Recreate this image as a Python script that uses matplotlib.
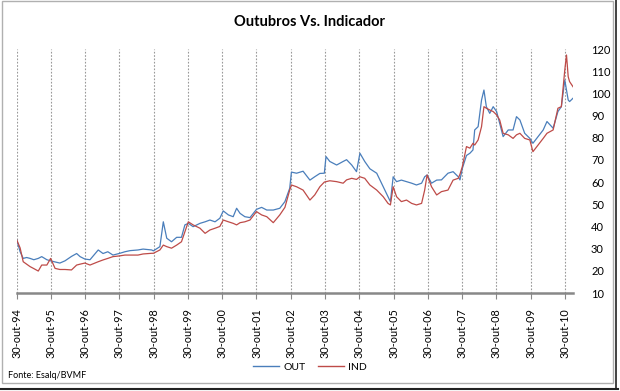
import matplotlib
matplotlib.use("Agg")
import matplotlib.pyplot as plt
from matplotlib.lines import Line2D
from matplotlib.patches import Rectangle

# decimal years (30-out-94 = 1994.83)
years = [1994.83, 1994.93, 1995.02, 1995.12, 1995.22, 1995.33, 1995.46, 1995.56, 1995.71, 1995.82,
         1995.95, 1996.09, 1996.24, 1996.43, 1996.58, 1996.68, 1996.82, 1996.97, 1997.21, 1997.35,
         1997.49, 1997.64, 1997.82, 1997.99, 1998.14, 1998.37, 1998.52, 1998.77, 1998.82, 1999.01,
         1999.11, 1999.21, 1999.35, 1999.50, 1999.64, 1999.74, 1999.84, 1999.98, 2000.18, 2000.33,
         2000.47, 2000.62, 2000.76, 2000.86, 2001.01, 2001.15, 2001.25, 2001.35, 2001.49, 2001.64,
         2001.83, 2001.98, 2002.13, 2002.32, 2002.51, 2002.66, 2002.80, 2002.85, 2003.00, 2003.19,
         2003.39, 2003.53, 2003.68, 2003.81, 2003.86, 2003.97, 2004.17, 2004.36, 2004.46, 2004.61,
         2004.75, 2004.85, 2004.99, 2005.14, 2005.34, 2005.53, 2005.67, 2005.74, 2005.82, 2005.92,
         2006.06, 2006.21, 2006.36, 2006.50, 2006.65, 2006.74, 2006.81, 2006.94, 2007.09, 2007.23,
         2007.42, 2007.57, 2007.72, 2007.77, 2007.84, 2007.96, 2008.06, 2008.15, 2008.20, 2008.30,
         2008.40, 2008.47, 2008.54, 2008.64, 2008.74, 2008.84, 2008.93, 2009.03, 2009.18, 2009.32,
         2009.42, 2009.52, 2009.66, 2009.81, 2009.90, 2010.05, 2010.20, 2010.31, 2010.49, 2010.63,
         2010.73, 2010.83, 2010.88, 2010.93, 2010.97, 2011.07]

out_vals = [34.0, 28.6, 25.6, 26.0, 25.6, 25.0, 25.6, 26.4, 25.0, 24.5,
            24.0, 23.5, 24.5, 26.5, 27.8, 26.4, 25.3, 25.0, 29.4, 27.8,
            28.6, 27.1, 27.8, 28.6, 29.1, 29.4, 29.8, 29.4, 29.0, 30.9,
            42.1, 34.7, 33.1, 35.1, 35.1, 40.7, 41.4, 39.9, 41.4, 42.1,
            42.9, 42.1, 43.7, 47.0, 45.2, 44.4, 48.2, 45.9, 44.4, 44.0,
            47.7, 48.6, 47.4, 47.4, 48.2, 51.2, 57.2, 64.5, 64.0, 64.9,
            60.9, 62.4, 63.9, 64.0, 71.5, 69.3, 67.7, 69.3, 70.1, 67.7,
            64.7, 73.0, 69.3, 66.0, 64.0, 57.9, 53.4, 51.2, 62.4, 60.2,
            60.9, 60.2, 59.5, 58.7, 59.5, 62.4, 63.2, 59.5, 60.9, 61.0,
            64.0, 64.7, 62.4, 61.0, 66.2, 72.0, 73.0, 74.5, 83.5, 85.0,
            97.0, 101.5, 94.0, 91.0, 94.0, 91.8, 86.5, 80.5, 83.5, 83.5,
            89.5, 88.0, 82.0, 79.7, 77.5, 80.5, 83.5, 87.3, 84.3, 91.8,
            94.0, 106.0, 101.5, 97.0, 96.3, 97.8]

ind_vals = [34.0, 30.3, 24.1, 23.0, 21.9, 21.0, 19.9, 22.6, 22.6, 25.6,
            21.1, 20.6, 20.6, 20.4, 22.6, 23.0, 23.5, 22.6, 24.1, 24.9,
            25.6, 26.4, 26.7, 27.1, 27.1, 27.1, 27.6, 27.9, 27.9, 29.4,
            31.6, 30.9, 30.2, 31.6, 33.1, 37.6, 42.1, 40.7, 39.2, 36.9,
            38.4, 39.2, 40.0, 42.9, 42.1, 41.4, 40.7, 41.7, 42.1, 42.9,
            46.7, 45.2, 44.4, 41.7, 45.2, 48.6, 56.4, 58.7, 57.9, 56.4,
            51.9, 54.2, 57.9, 60.0, 60.2, 60.6, 60.2, 59.5, 61.0, 61.7,
            61.2, 62.4, 61.7, 58.7, 56.4, 53.4, 50.4, 49.7, 57.9, 53.4,
            51.2, 51.9, 50.4, 49.7, 50.4, 56.4, 63.2, 57.9, 54.2, 55.7,
            56.4, 60.9, 61.7, 63.5, 67.0, 76.0, 75.3, 77.5, 76.7, 79.0,
            85.0, 94.0, 93.3, 92.5, 91.8, 90.3, 88.0, 82.0, 81.3, 79.7,
            81.3, 82.0, 79.7, 79.0, 73.7, 76.7, 79.7, 82.0, 83.5, 93.3,
            94.0, 110.5, 117.3, 107.5, 105.3, 103.0]

tick_years = [1994.83 + k for k in range(17)]
tick_labels = ["30-out-%02d" % ((94 + k) % 100) for k in range(17)]
y_ticks = list(range(10, 121, 10))

plt.rcParams['font.family'] = ['Lato', 'DejaVu Sans']

fig = plt.figure(figsize=(6.2, 3.91), dpi=100)
ax = fig.add_axes([16.7 / 620, 1 - 293 / 391, (573 - 16.7) / 620, (293 - 49) / 391])

blue = "#4a7ebb"
red = "#be4b48"
ax.plot(years, out_vals, color=blue, lw=0.9)
ax.plot(years, ind_vals, color=red, lw=0.9)

ax.set_xlim(1994.83, 2011.07)
ax.set_ylim(10, 120)
ax.set_xticks(tick_years)
ax.set_xticklabels(tick_labels, rotation=90, fontsize=7.8)
ax.yaxis.tick_right()
ax.set_yticks(y_ticks)
ax.set_yticklabels([str(v) for v in y_ticks], fontsize=8)
ax.tick_params(axis='y', length=0, pad=13)
ax.tick_params(axis='x', length=4, color="#888888", pad=7)
for s in ['top', 'left', 'right']:
    ax.spines[s].set_visible(False)
ax.spines['bottom'].set_color("#888888")
ax.spines['bottom'].set_linewidth(1.8)
ax.grid(axis='x', color="#999999", linestyle=(0, (1.5, 1.5)), lw=0.8)
ax.grid(axis='y', visible=False)

fig.text(310 / 620, 1 - 22 / 391, "Outubros Vs. Indicador", ha='center', va='center',
         fontsize=10.5, fontweight='bold')

handles = [Line2D([0], [0], color=blue, lw=1.0), Line2D([0], [0], color=red, lw=1.0)]
fig.legend(handles, ["OUT", "IND"], loc='center', bbox_to_anchor=(310 / 620, 1 - 367 / 391),
           ncol=2, frameon=False, fontsize=7.5, handlelength=2.5, columnspacing=1.2,
           handletextpad=0.4)

fig.text(8 / 620, 1 - 376 / 391, "Fonte: Esalq/BVMF", ha='left', va='center', fontsize=6.5)

fig.patches.append(Rectangle((2 / 620, 8 / 391), 611 / 620, 382 / 391, transform=fig.transFigure,
                             fill=False, edgecolor="#b0b0b0", lw=1.0))
fig.add_artist(Line2D([0, 618 / 620], [2 / 391, 2 / 391], transform=fig.transFigure,
                      color="#222222", lw=1.5))
fig.add_artist(Line2D([616 / 620, 616 / 620], [2 / 391, 1], transform=fig.transFigure,
                      color="#222222", lw=1.2))

fig.savefig("out.png", dpi=100)
